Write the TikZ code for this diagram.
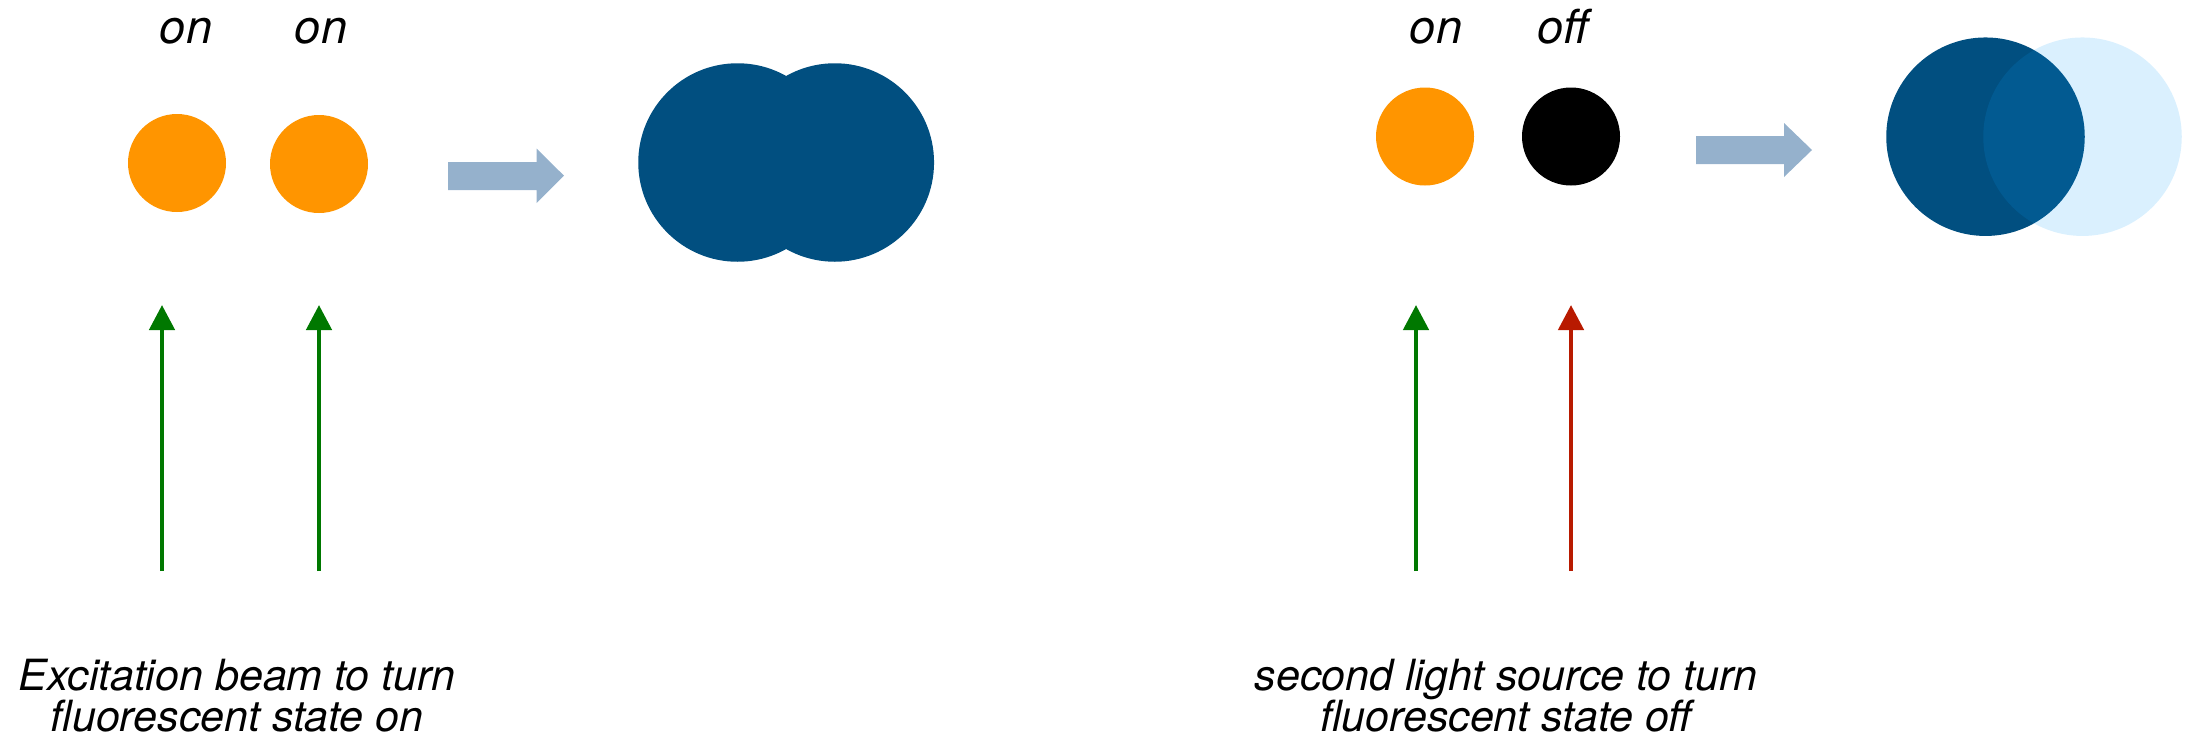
\documentclass[tikz,border=0pt]{standalone}
\usepackage{fontspec}
\setmainfont{TeX Gyre Heros}
\usetikzlibrary{arrows.meta}

\definecolor{dotorange}{RGB}{255,149,0}
\definecolor{spotblue}{RGB}{1,79,128}
\definecolor{haloblue}{RGB}{8,155,248}
\definecolor{stepgray}{RGB}{149,177,204}
\definecolor{beamgreen}{RGB}{0,120,0}
\definecolor{beamred}{RGB}{184,26,0}

\tikzset{
  molecule/.style={circle, inner sep=0pt, minimum size=98pt},
  spot/.style={circle, inner sep=0pt, minimum size=198.5pt, fill=spotblue},
  statelabel/.style={anchor=base, font=\fontsize{47}{47}\selectfont\itshape},
  caption/.style={anchor=base, align=center, font=\fontsize{43}{41}\selectfont\itshape},
  beam/.style={line width=4.6pt, -{Triangle[width=25pt,length=25pt]}},
  blockarrow/.style={fill=stepgray}
}

\begin{document}
\begin{tikzpicture}[x=1pt,y=-1pt]
\useasboundingbox (0,0) rectangle (2185,750);

% --- left panel: both molecules switched on ---
\node[molecule, fill=dotorange] (m1) at (177,163) {};
\node[molecule, fill=dotorange] (m2) at (319,164) {};
\node[statelabel] (s1) at (186,43) {on};
\node[statelabel] (s2) at (321,43) {on};

\coordinate (b1) at (162,571);
\coordinate (t1) at (162,305);
\coordinate (b2) at (319,571);
\coordinate (t2) at (319,305);
\draw[beam, beamgreen] (b1) -- (t1);
\draw[beam, beamgreen] (b2) -- (t2);

\fill[blockarrow] (448,162) -- (536.5,162) -- (536.5,148.5) -- (564,175.7)
  -- (536.5,203) -- (536.5,190) -- (448,190) -- cycle;

% blurred image: two overlapping spots
\node[spot] (p1) at (737.5,162.5) {};
\node[spot] (p2) at (834.8,162.5) {};

% the base anchor of a multi-line node sits on its last line
\node[caption] (c1) at (237,731) {Excitation beam to turn\\fluorescent state on};

% --- right panel: second molecule switched off ---
\node[molecule, fill=dotorange] (m3) at (1425,136.5) {};
\node[molecule, fill=black] (m4) at (1571,136.5) {};
\node[statelabel] (s3) at (1436,43) {on};
\node[statelabel] (s4) at (1563,43) {off};

\coordinate (b3) at (1416,571);
\coordinate (t3) at (1416,305);
\coordinate (b4) at (1571,571);
\coordinate (t4) at (1571,305);
\draw[beam, beamgreen] (b3) -- (t3);
\draw[beam, beamred] (b4) -- (t4);

\fill[blockarrow] (1696,136) -- (1784,136) -- (1784,123) -- (1812,150)
  -- (1784,177) -- (1784,164) -- (1696,164) -- cycle;

% resolved image: bright spot and faint neighbour
\node[spot] (p3) at (1985.5,136.7) {};
\node[spot, fill=haloblue, fill opacity=0.15] (p4) at (2082.5,136.7) {};

\node[caption] (c2) at (1506,731) {second light source to turn\\fluorescent state off};
\end{tikzpicture}
\end{document}
